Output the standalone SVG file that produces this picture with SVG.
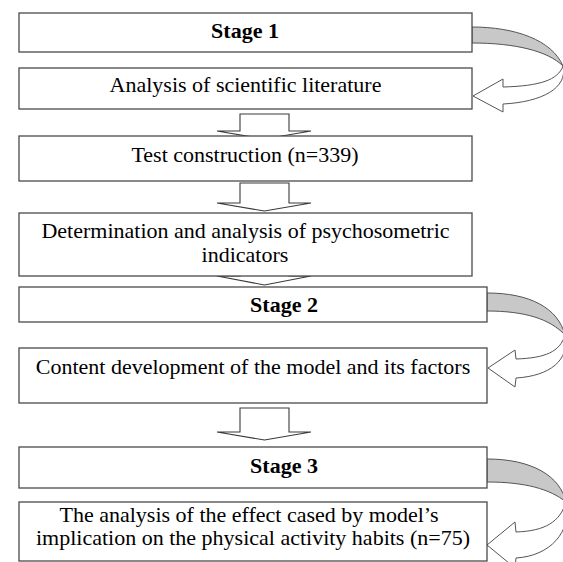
<svg xmlns="http://www.w3.org/2000/svg" width="563" height="562" viewBox="0 0 563 562">
<style>
.box{fill:#fff;stroke:#4a4a4a;stroke-width:1.3}
.t{font-family:"Liberation Serif","Times New Roman",serif;font-size:22px;fill:#000;text-anchor:middle}
.b{font-weight:bold}
.arr{fill:#fff;stroke:#3a3a3a;stroke-width:1.1;stroke-linejoin:miter}
.back{fill:#c8c8c8;stroke:#555;stroke-width:1}
.front{fill:#fff;stroke:#555;stroke-width:1}
</style>
<rect width="563" height="562" fill="#fff"/>
<g id="connectors">
  <path class="arr" d="M240,114 H289 V131 H311 L264.5,139 L217,131 H240 Z"/>
  <path class="arr" d="M240,183 H289 V203 H311 L264.5,211 L217,203 H240 Z"/>
  <path class="arr" d="M240,255 H289 V276 H311 L264.5,285 L217,276 H240 Z"/>
  <path class="arr" d="M240,408 H289 V432 H311 L264.5,440 L217,432 H240 Z"/>
  <g id="curve1">
    <path class="back" d="M472,27 C515,27 552,40 563,66 C548,51 515,43 472,43 Z"/>
    <path class="front" d="M563,66 C558,80 540,86 503,87 L503,79 L473,96 L503,112 L503,104 C542,102 568,88 563,66 Z"/>
  </g>
  <g id="curve2">
    <path class="back" d="M487,293 C530,293 558,308 565,335 C550,319 525,311 487,311 Z"/>
    <path class="front" d="M565,335 C560,352 545,358 516,359 L515,350 L488,368 L515,387 L516,378 C550,376 570,360 565,335 Z"/>
  </g>
  <g id="curve3">
    <path class="back" d="M487,459 C532,459 560,476 566,502 C550,489 525,482 487,482 Z"/>
    <path class="front" d="M566,502 C560,522 545,531 516,532 L515,522 L487,545 L515,568 L516,558 C550,556 572,532 566,502 Z"/>
  </g>
</g>
<g id="stage1"><rect class="box" x="19" y="13" width="453" height="39"/><text class="t b" x="245" y="38">Stage 1</text></g>
<g id="literature"><rect class="box" x="19" y="68" width="453" height="41"/><text class="t" x="245.5" y="92">Analysis of scientific literature</text></g>
<g id="test"><rect class="box" x="19" y="136" width="453" height="45"/><text class="t" x="245" y="162">Test construction (n=339)</text></g>
<g id="indicators"><rect class="box" x="19" y="213" width="453" height="63"/><text class="t" x="245.5" y="238">Determination and analysis of psychosometric</text><text class="t" x="245" y="262">indicators</text></g>
<g id="stage2"><rect class="box" x="19" y="287" width="468" height="35"/><text class="t b" x="284" y="312">Stage 2</text></g>
<g id="content"><rect class="box" x="19" y="348" width="468" height="55"/><text class="t" x="253" y="374">Content development of the model and its factors</text></g>
<g id="stage3"><rect class="box" x="19" y="447" width="468" height="41"/><text class="t b" x="284" y="473">Stage 3</text></g>
<g id="effect"><rect class="box" x="19" y="502" width="468" height="59"/><text class="t" x="249" y="522">The analysis of the effect cased by model’s</text><text class="t" x="253" y="545">implication on the physical activity habits (n=75)</text></g>
</svg>
